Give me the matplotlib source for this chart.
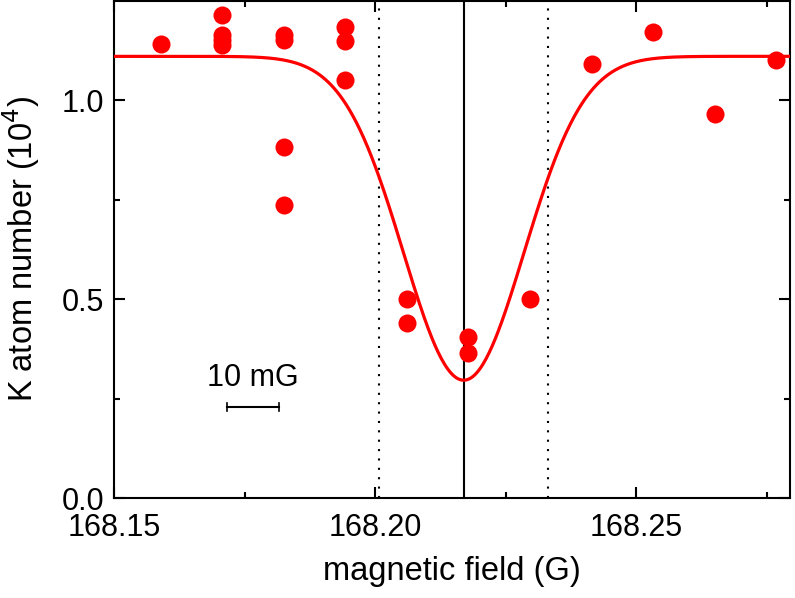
import numpy as np
import matplotlib
matplotlib.use("Agg")
import matplotlib.pyplot as plt
from matplotlib.ticker import MultipleLocator

plt.rcParams['font.family'] = ['Liberation Sans', 'DejaVu Sans']

# measured data (magnetic field in G, K atom number in 1e4)
field = [168.159, 168.1706, 168.1706, 168.1706, 168.1706,
         168.1825, 168.1825, 168.1825, 168.1825,
         168.1943, 168.1943, 168.1943,
         168.2061, 168.2061,
         168.2179, 168.2179,
         168.2296, 168.2415, 168.2532, 168.2651, 168.2769]
atoms = [1.141, 1.214, 1.163, 1.151, 1.138,
         1.163, 1.151, 0.882, 0.736,
         1.183, 1.148, 1.050,
         0.499, 0.440,
         0.404, 0.365,
         0.500, 1.090, 1.170, 0.965, 1.102]

# Gaussian fit parameters
fit_center = 168.217
fit_baseline = 1.11
fit_depth = 0.814
fit_sigma = 0.01154
marker_lines = [168.2008, 168.2331]

x_ticks = [168.15, 168.20, 168.25]
x_tick_labels = ["168.15", "168.20", "168.25"]
y_ticks = [0.0, 0.5, 1.0]
y_tick_labels = ["0.0", "0.5", "1.0"]

fig = plt.figure(figsize=(7.95, 5.98), dpi=100)
ax = fig.add_axes([0.1434, 0.1672, 0.8503, 0.8311])

xx = np.linspace(168.14, 168.29, 800)
yy = fit_baseline - fit_depth * np.exp(-(xx - fit_center) ** 2 / (2 * fit_sigma ** 2))
ax.plot(xx, yy, color='#ff0000', lw=2.3, zorder=3)

ax.plot(field, atoms, 'o', color='#ff0000', ms=13, mec='none', zorder=4)

ax.axvline(fit_center, color='black', lw=1.5, zorder=2)
for xv in marker_lines:
    ax.axvline(xv, color='black', lw=1.5, ls=(0, (1, 3.5)), zorder=2)

# scale bar 10 mG
ax.plot([168.1716, 168.1816], [0.229, 0.229], color='black', lw=1.5)
ax.plot([168.1716, 168.1716], [0.219, 0.239], color='black', lw=1.2)
ax.plot([168.1816, 168.1816], [0.219, 0.239], color='black', lw=1.2)
ax.text(168.1766, 0.265, "10 mG", ha='center', va='bottom', fontsize=22)

ax.set_xlim(168.15, 168.2795)
ax.set_ylim(0.0, 1.249)
ax.set_xticks(x_ticks)
ax.set_xticklabels(x_tick_labels)
ax.set_yticks(y_ticks)
ax.set_yticklabels(y_tick_labels)
ax.xaxis.set_minor_locator(MultipleLocator(0.025))
ax.yaxis.set_minor_locator(MultipleLocator(0.25))
ax.tick_params(which='both', direction='in', top=True, right=True, labelsize=22, width=1.5)
ax.tick_params(which='major', length=8, pad=7)
ax.tick_params(axis='x', which='major', pad=11)
ax.tick_params(which='minor', length=4)
for s in ax.spines.values():
    s.set_linewidth(1.5)

ax.set_xlabel("magnetic field (G)", fontsize=23.5, labelpad=9)
ax.set_ylabel("K atom number (10$^{4}$)", fontsize=23.5, labelpad=14)

fig.savefig("out.png", dpi=100)
